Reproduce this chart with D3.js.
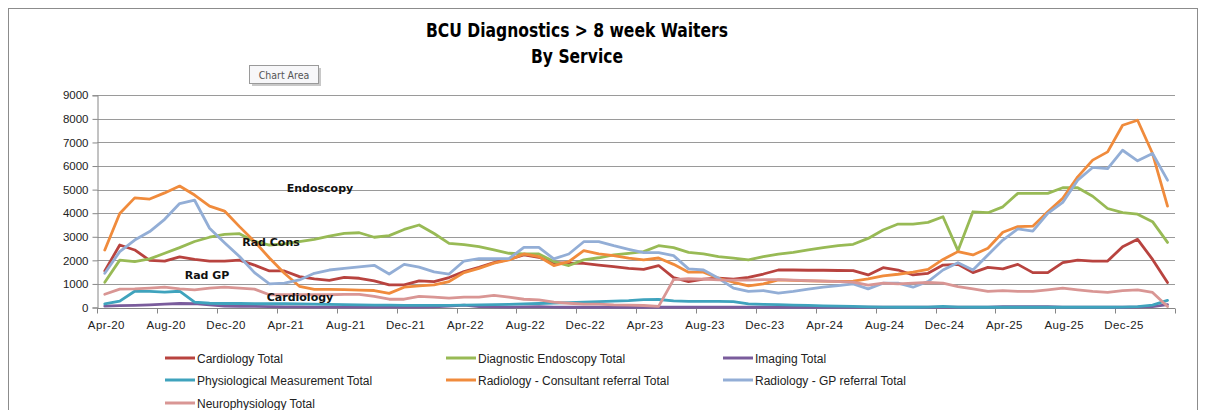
<!DOCTYPE html>
<html>
<head>
<meta charset="utf-8">
<script src="https://cdn.jsdelivr.net/npm/d3@7"></script>
<style>
  html, body { margin: 0; padding: 0; background: #ffffff; }
  svg { display: block; }
</style>
</head>
<body>
<svg id="chart" width="1205" height="410"></svg>
<script>
// ---------------- DATA ----------------
const months = [
  "Apr-20","May-20","Jun-20","Jul-20","Aug-20","Sep-20","Oct-20","Nov-20","Dec-20","Jan-21","Feb-21","Mar-21",
  "Apr-21","May-21","Jun-21","Jul-21","Aug-21","Sep-21","Oct-21","Nov-21","Dec-21","Jan-22","Feb-22","Mar-22",
  "Apr-22","May-22","Jun-22","Jul-22","Aug-22","Sep-22","Oct-22","Nov-22","Dec-22","Jan-23","Feb-23","Mar-23",
  "Apr-23","May-23","Jun-23","Jul-23","Aug-23","Sep-23","Oct-23","Nov-23","Dec-23","Jan-24","Feb-24","Mar-24",
  "Apr-24","May-24","Jun-24","Jul-24","Aug-24","Sep-24","Oct-24","Nov-24","Dec-24","Jan-25","Feb-25","Mar-25",
  "Apr-25","May-25","Jun-25","Jul-25","Aug-25","Sep-25","Oct-25","Nov-25","Dec-25","Jan-26","Feb-26","Mar-26"
];
const xTickLabels = ["Apr-20","Aug-20","Dec-20","Apr-21","Aug-21","Dec-21","Apr-22","Aug-22","Dec-22",
  "Apr-23","Aug-23","Dec-23","Apr-24","Aug-24","Dec-24","Apr-25","Aug-25","Dec-25"];
const yTicks = [0,1000,2000,3000,4000,5000,6000,7000,8000,9000];

const cardiology = [1550,2650,2440,2000,1970,2150,2040,1970,1970,2010,1800,1550,
  1550,1310,1210,1150,1280,1240,1130,960,960,1130,1100,1270,
  1520,1700,1900,2040,2230,2130,1900,1880,1870,1800,1730,1660,
  1620,1780,1270,1100,1200,1240,1200,1280,1420,1590,1590,1580,
  1580,1570,1560,1380,1690,1590,1380,1450,1800,1830,1480,1700,
  1640,1830,1480,1480,1900,2010,1970,1970,2580,2890,2040,1060];
const endoscopy = [1070,2010,1950,2060,2300,2540,2800,2980,3100,3130,2800,2650,
  2700,2790,2890,3030,3140,3170,2980,3050,3310,3500,3140,2720,
  2670,2580,2440,2300,2270,2270,1950,1780,2020,2110,2230,2300,
  2370,2620,2540,2340,2270,2160,2090,2020,2160,2260,2340,2440,
  2540,2620,2680,2930,3290,3540,3540,3610,3850,2410,4060,4020,
  4270,4840,4840,4840,5080,5080,4720,4200,4020,3960,3640,2760];
const imaging = [60,80,90,110,140,170,160,110,60,50,50,40,
  30,30,20,20,20,20,20,20,20,20,30,60,
  100,40,30,20,30,40,20,10,10,10,10,10,
  10,10,10,10,10,10,10,10,10,10,10,10,
  10,10,10,10,10,10,10,10,10,10,10,20,
  40,40,40,40,20,10,10,10,10,20,40,120];
const physiological = [150,270,690,680,650,690,230,180,170,170,160,160,
  160,150,140,130,120,110,100,100,90,90,90,90,
  100,110,120,130,150,170,190,210,230,250,270,290,
  330,340,280,260,260,260,250,150,130,120,100,90,
  70,60,50,30,20,10,10,20,50,20,10,10,
  10,10,10,10,10,10,10,10,20,40,100,300];
const radCons = [2440,3990,4650,4600,4860,5150,4770,4300,4090,3430,2800,2100,
  1450,900,770,770,760,740,720,600,860,920,960,1100,
  1480,1660,1880,2020,2270,2160,1780,1950,2410,2270,2200,2090,
  2020,2100,1830,1500,1500,1240,1070,920,1000,1170,1150,1130,
  1120,1110,1120,1210,1340,1410,1500,1620,2040,2370,2230,2510,
  3190,3430,3450,4060,4630,5540,6250,6600,7730,7940,6530,4300];
const radGP = [1450,2370,2860,3220,3740,4410,4550,3360,2750,2160,1480,1000,
  1030,1170,1450,1590,1660,1720,1790,1420,1830,1710,1510,1420,
  1970,2070,2070,2070,2550,2550,2060,2270,2790,2790,2620,2470,
  2330,2330,2200,1640,1590,1240,820,680,720,610,680,780,
  860,930,1000,790,1030,1030,860,1100,1590,1900,1590,2230,
  2860,3330,3240,3990,4460,5400,5940,5890,6670,6220,6530,5400];
const neurophysiology = [560,780,790,820,860,790,750,820,860,820,780,540,
  540,540,540,540,560,560,470,350,350,470,440,400,
  440,440,510,440,350,320,230,180,140,140,110,100,
  85,50,1180,1220,1200,1170,1160,1160,1180,1180,1160,1140,
  1120,1100,1080,950,1030,1000,1030,1060,1030,890,790,680,
  720,680,680,750,820,750,680,640,720,750,640,40];

const seriesNames = ["Cardiology Total","Diagnostic Endoscopy Total","Imaging Total",
  "Physiological Measurement Total","Radiology - Consultant referral Total",
  "Radiology - GP referral Total","Neurophysiology Total"];
const seriesValues = [cardiology, endoscopy, imaging, physiological, radCons, radGP, neurophysiology];
const seriesColors = ["#B8433F","#98BA55","#7A5C9C","#3FA3BD","#F08B3C","#93AED6","#D99694"];

const annotations = [
  {text:"Endoscopy", cx:320, cy:188},
  {text:"Rad Cons", cx:271, cy:242},
  {text:"Rad GP", cx:207, cy:275},
  {text:"Cardiology", cx:300, cy:297}
];

// ---------------- LAYOUT ----------------
const svg = d3.select("#chart");
const plot = {left: 97.3, right: 1175, top: 95.3, bottom: 307.5};

// outer chart border
svg.append("rect").attr("x", 8.5).attr("y", 8.5).attr("width", 1189).attr("height", 420)
  .attr("fill", "#fff").attr("stroke", "#8c8c8c").attr("stroke-width", 1);

// title
const titleFont = "'Liberation Sans Narrow','DejaVu Sans Condensed','Arial Narrow',sans-serif";
svg.append("text").attr("x", 577).attr("y", 37).attr("text-anchor", "middle")
  .attr("font-family", titleFont).attr("font-weight", "bold").attr("font-size", 19)
  .attr("textLength", 302).attr("lengthAdjust", "spacingAndGlyphs")
  .attr("fill", "#000").text("BCU Diagnostics > 8 week Waiters");
svg.append("text").attr("x", 577).attr("y", 63).attr("text-anchor", "middle")
  .attr("font-family", titleFont).attr("font-weight", "bold").attr("font-size", 19)
  .attr("textLength", 92).attr("lengthAdjust", "spacingAndGlyphs")
  .attr("fill", "#000").text("By Service");

// "Chart Area" tooltip
svg.append("rect").attr("x", 252).attr("y", 68).attr("width", 69).attr("height", 18)
  .attr("fill", "#c8c8c8");
svg.append("rect").attr("x", 249.5).attr("y", 65.5).attr("width", 69).attr("height", 18)
  .attr("fill", "#f7f7f9").attr("stroke", "#9a9a9a");
svg.append("text").attr("x", 284).attr("y", 78.5).attr("text-anchor", "middle")
  .attr("font-family", "'Liberation Sans Narrow','DejaVu Sans Condensed',sans-serif")
  .attr("font-size", 10.5).attr("fill", "#555").text("Chart Area");

// scales
const x = d3.scalePoint().domain(months).range([plot.left, plot.right]).padding(0.5);
const y = d3.scaleLinear().domain([0, 9000]).range([plot.bottom, plot.top]);
const step = x.step();

// gridlines
svg.append("g").selectAll("line").data(yTicks.filter(d => d > 0)).join("line")
  .attr("x1", plot.left).attr("x2", plot.right)
  .attr("y1", d => Math.round(y(d)) + 0.5).attr("y2", d => Math.round(y(d)) + 0.5)
  .attr("stroke", "#9a9a9a").attr("stroke-width", 1);

// y axis
const yAxis = d3.axisLeft(y).tickValues(yTicks).tickSize(5).tickPadding(4).tickFormat(d3.format("d"));
const gy = svg.append("g").attr("transform", `translate(${Math.round(plot.left) + 0.5},0)`).call(yAxis);
gy.select(".domain").attr("stroke", "#868686");
gy.selectAll(".tick line").attr("stroke", "#868686");
gy.selectAll(".tick text").attr("font-family", "'Liberation Sans',Arial,sans-serif")
  .attr("font-size", 11.5).attr("fill", "#222");

// x axis line + ticks at 4-month boundaries
const xBase = Math.round(plot.bottom) + 0.5;
svg.append("line").attr("x1", plot.left).attr("x2", plot.right).attr("y1", xBase).attr("y2", xBase)
  .attr("stroke", "#868686");
const boundaryIdx = d3.range(0, months.length + 1, 4);
svg.append("g").selectAll("line").data(boundaryIdx).join("line")
  .attr("x1", i => Math.round(plot.left + step * i) + 0.5)
  .attr("x2", i => Math.round(plot.left + step * i) + 0.5)
  .attr("y1", xBase).attr("y2", xBase + 5).attr("stroke", "#868686");
svg.append("g").selectAll("text").data(xTickLabels).join("text")
  .attr("x", d => x(d) + 1.5).attr("y", 329).attr("text-anchor", "middle")
  .attr("font-family", "'Liberation Sans',Arial,sans-serif").attr("font-size", 11.5)
  .attr("letter-spacing", 0.4).attr("fill", "#222").text(d => d);

// lines
const line = d3.line().x((d, i) => x(months[i])).y(d => y(d));
const gl = svg.append("g");
seriesValues.forEach((vals, k) => {
  gl.append("path").datum(vals).attr("d", line)
    .attr("fill", "none").attr("stroke", seriesColors[k]).attr("stroke-width", 2.8)
    .attr("stroke-linejoin", "round").attr("stroke-linecap", "round");
});

// annotations
svg.append("g").selectAll("text").data(annotations).join("text")
  .attr("x", d => d.cx).attr("y", d => d.cy + 4).attr("text-anchor", "middle")
  .attr("font-family", "'DejaVu Sans',Verdana,sans-serif").attr("font-weight", "bold")
  .attr("font-size", 11).attr("fill", "#111").text(d => d.text);

// legend
const legCols = [165, 446, 723];
const legRows = [358, 380, 403];
const lg = svg.append("g");
seriesNames.forEach((name, k) => {
  const cx = legCols[k % 3], cy = legRows[Math.floor(k / 3)];
  lg.append("line").attr("x1", cx).attr("x2", cx + 30).attr("y1", cy).attr("y2", cy)
    .attr("stroke", seriesColors[k]).attr("stroke-width", 3);
  lg.append("text").attr("x", cx + 32).attr("y", cy + 4.5)
    .attr("font-family", "'Liberation Sans',Arial,sans-serif").attr("font-size", 12)
    .attr("fill", "#222").text(name);
});
</script>
</body>
</html>
